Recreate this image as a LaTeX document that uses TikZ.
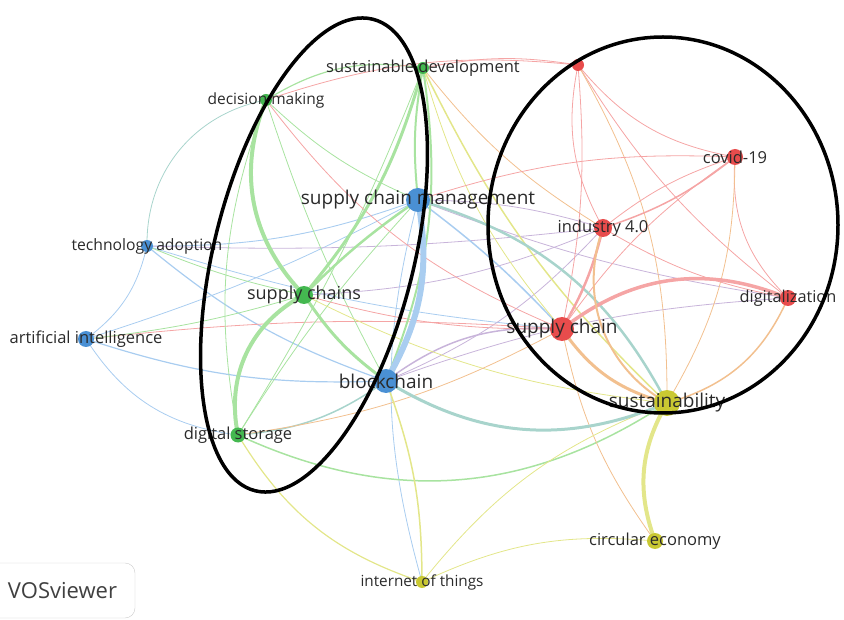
\documentclass[tikz,border=0pt]{standalone}
\usepackage{fontspec}
\setmainfont{Open Sans}
\usetikzlibrary{backgrounds}

\definecolor{nblue}{HTML}{4A90D4}
\definecolor{ngreen}{HTML}{44B850}
\definecolor{nred}{HTML}{E84C4C}
\definecolor{nyellow}{HTML}{C9C832}
\definecolor{cb}{HTML}{A9CDF0}
\definecolor{cg}{HTML}{A8E3A0}
\definecolor{cr}{HTML}{F5A5A5}
\definecolor{cy}{HTML}{E3E68A}
\definecolor{co}{HTML}{F2C08F}
\definecolor{cp}{HTML}{C8B4DA}
\definecolor{ct}{HTML}{A8D4CC}
\definecolor{txt}{HTML}{2A2A2A}

\begin{document}
\begin{tikzpicture}[x=1pt,y=-1pt,
    dot/.style={circle,inner sep=0pt,minimum size=#1},
    lab/.style={font=\fontsize{#1}{#1}\selectfont,text=txt,inner sep=0pt},
    ring/.style={line width=3.5pt}]
  \useasboundingbox (0,0) rectangle (844,620);

  % keywords
  \foreach \n/\x/\y/\d/\c in {scm/418/200/24/nblue, bc/386/381/24/nblue,
      ta/147/246/12/nblue, ai/86/339/16/nblue,
      sd/423/68/12/ngreen, dm/266/100/12/ngreen, scs/304/295/18/ngreen, ds/238/435/15/ngreen,
      tr/578/65/12/nred, cov/735/157/16/nred, ind/603/228/18/nred, dig/788/298/16/nred,
      sc/562/329/24/nred,
      sust/667/403/26/nyellow, ce/655/541/16/nyellow, iot/422/582/12/nyellow}
    \node[dot=\d pt, fill=\c] (\n) at (\x,\y) {};

  % links
  \begin{scope}[on background layer, draw opacity=0.6]
    \foreach \a/\b/\c/\w/\t in {ta/scm/cb/0.9/-10, ta/bc/cb/1.2/-10, ai/scm/cb/0.8/-5,
        ai/bc/cb/1.2/-10, ta/ai/cb/0.8/20, ds/ai/cb/0.8/25, iot/scm/cb/0.8/15, ta/sc/cb/0.8/-6,
        ta/dm/ct/0.8/40, ta/ind/cp/0.8/-4, scm/sc/cb/1.5/5, scm/ind/cp/0.8/8,
        scm/dig/cp/0.8/-6, bc/sc/cp/1.5/20, bc/dig/cp/0.8/8, bc/ind/cp/0.8/-12,
        ai/sc/cr/0.8/5, bc/ds/ct/1.5/15,
        dm/sd/cg/1.2/20, dm/scm/cg/0.8/-10, dm/bc/cg/0.8/-5, ds/dm/cg/0.8/15, ds/sd/cg/0.8/-5,
        ds/scm/cg/0.8/5, scs/ta/cg/0.8/5, scs/ai/cg/0.8/5, scs/sust/cy/0.8/-10,
        scs/sc/cr/0.8/-8, scs/ind/cp/0.8/-10, ds/sc/co/0.8/-10, dm/sc/cr/0.8/-15,
        sd/ind/co/0.8/-10, sd/sc/cy/0.8/-12,
        sust/ds/cg/1.5/29, iot/ds/cy/1.2/20, sd/scm/cg/2/-8, sd/bc/cg/2/15,
        sd/sust/cy/1.5/-10,
        ind/tr/cr/0.8/20, cov/tr/cr/0.8/20, tr/sc/cr/0.8/8, tr/dig/cr/0.8/-10,
        tr/sust/co/0.8/15, tr/sd/cr/0.8/-10, tr/dm/cr/0.8/-12, scm/cov/cr/0.8/10,
        cov/ind/cr/1.5/10, ind/cov/cr/0.8/10, cov/sc/cr/0.8/-10, dig/cov/cr/0.8/25,
        cov/sust/co/0.8/15, dig/ind/cr/0.8/10, dig/sust/co/1.5/25, ce/sc/co/0.8/12,
        iot/sust/cy/0.8/15, iot/ce/cy/0.8/15, bc/iot/cy/1.5/10,
        scs/sd/cg/3/-12, scs/scm/cg/2.5/5, scs/bc/cg/3/-10,
        scs/dm/cg/4/33, ds/scs/cg/4/37, scm/sust/ct/2.5/23, sust/bc/ct/3/27,
        sc/ind/cr/2.5/-8, sc/dig/cr/3.5/30, sust/sc/co/3/20, sust/ind/co/2/40,
        ce/sust/cy/4/25, scm/bc/cb/6/20}
      \draw[color=\c, line width=\w pt] (\a.center) to[bend left=\t] (\b.center);
  \end{scope}

  % labels
  \foreach \n/\t/\s in {scm/supply chain management/19, bc/blockchain/19,
      sc/supply chain/19, sust/sustainability/19, scs/supply chains/18,
      ind/industry 4.0/16.5, cov/covid-19/16.5, dig/digitalization/16.3,
      ta/technology adoption/15.7, ai/artificial intelligence/16.5,
      dm/decision making/15.5, sd/sustainable development/16.5,
      ds/digital storage/16.5, ce/circular economy/16.5, iot/internet of things/15.3}
    \node[lab=\s] (\n-t) at (\n) {\t};

  % clusters
  \draw[ring] (314,255) ellipse [x radius=100, y radius=243, rotate=-14];
  \draw[ring] (663,225) ellipse [x radius=175, y radius=188];

  \node[draw=black!20, fill=white, rounded corners=10pt, minimum width=145pt,
    minimum height=55pt, lab=22, text=black!75] (vos) at (62.5,590.5) {VOSviewer};
\end{tikzpicture}
\end{document}
